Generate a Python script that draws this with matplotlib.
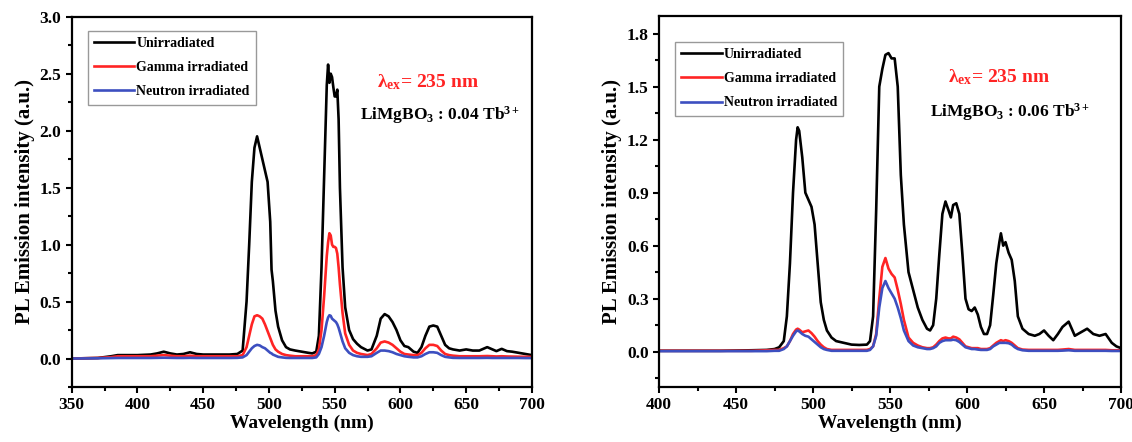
import matplotlib
matplotlib.use("Agg")
import matplotlib.pyplot as plt
from matplotlib.ticker import MultipleLocator, AutoMinorLocator

plt.rcParams['font.family'] = ['Liberation Serif', 'DejaVu Serif']
plt.rcParams['font.weight'] = 'bold'
plt.rcParams['mathtext.fontset'] = 'custom'
plt.rcParams['mathtext.rm'] = 'Liberation Serif:bold'
plt.rcParams['mathtext.bf'] = 'Liberation Serif:bold'
plt.rcParams['mathtext.it'] = 'Liberation Serif:bold:italic'

# ---------------- data: left panel (LiMgBO3 : 0.04 Tb3+) ----------------
wl_left = [350, 370, 380, 385, 400, 410, 415, 420, 425, 430, 435, 440, 445, 450, 470,
           476, 480, 483, 485, 487, 489, 491, 493, 495, 497, 499, 501, 502, 503, 505,
           507, 510, 513, 516, 520, 525, 530, 533, 536, 538, 540, 542, 544, 545, 546,
           547, 548, 549, 550, 551, 552, 553, 554, 556, 558, 561, 564, 567, 570, 575,
           578, 582, 585, 588, 591, 594, 597, 600, 603, 606, 610, 613, 616, 619, 622,
           625, 628, 631, 634, 637, 640, 645, 650, 655, 660, 666, 670, 673, 677, 681,
           685, 690, 695, 700]
unirr_left = [0.0, 0.005, 0.02, 0.03, 0.03, 0.035, 0.045, 0.06, 0.045, 0.035, 0.04, 0.055, 0.04, 0.035, 0.035,
              0.04, 0.07, 0.5, 1.0, 1.55, 1.85, 1.95, 1.85, 1.75, 1.65, 1.55, 1.2, 0.78, 0.68, 0.42,
              0.28, 0.16, 0.1, 0.08, 0.07, 0.06, 0.05, 0.045, 0.06, 0.2, 0.8, 1.6, 2.4, 2.58, 2.42,
              2.5, 2.47, 2.38, 2.3, 2.3, 2.36, 2.1, 1.5, 0.8, 0.45, 0.25, 0.17, 0.13, 0.1, 0.07,
              0.08, 0.2, 0.35, 0.39, 0.37, 0.32, 0.25, 0.16, 0.11, 0.1, 0.06, 0.05, 0.1, 0.2, 0.28,
              0.29, 0.28, 0.2, 0.12, 0.09, 0.08, 0.07, 0.08, 0.07, 0.07, 0.1, 0.08, 0.065, 0.085, 0.065,
              0.06, 0.05, 0.04, 0.03]
gamma_left = [0.0, 0.005, 0.012, 0.02, 0.02, 0.02, 0.025, 0.03, 0.025, 0.02, 0.02, 0.025, 0.02, 0.02, 0.02,
              0.02, 0.03, 0.1, 0.2, 0.3, 0.37, 0.38, 0.37, 0.35, 0.3, 0.24, 0.18, 0.15, 0.12, 0.08,
              0.06, 0.04, 0.03, 0.025, 0.02, 0.02, 0.02, 0.02, 0.03, 0.08, 0.25, 0.55, 0.9, 1.02, 1.1,
              1.08, 1.0, 0.98, 0.98, 0.97, 0.92, 0.8, 0.65, 0.4, 0.22, 0.12, 0.07, 0.05, 0.04, 0.03,
              0.04, 0.09, 0.14, 0.15, 0.14, 0.12, 0.09, 0.06, 0.04, 0.035, 0.03, 0.03, 0.05, 0.09, 0.12,
              0.12, 0.11, 0.07, 0.04, 0.03, 0.025, 0.02, 0.02, 0.02, 0.02, 0.022, 0.02, 0.018, 0.02, 0.018,
              0.017, 0.016, 0.015, 0.015]
neutron_left = [0.0, 0.002, 0.004, 0.005, 0.005, 0.005, 0.006, 0.007, 0.006, 0.005, 0.005, 0.006, 0.005, 0.005, 0.005,
                0.006, 0.01, 0.03, 0.06, 0.09, 0.11, 0.12, 0.115, 0.1, 0.09, 0.07, 0.05, 0.045, 0.035, 0.025,
                0.015, 0.01, 0.006, 0.005, 0.005, 0.005, 0.005, 0.005, 0.01, 0.04, 0.1, 0.2, 0.32, 0.36, 0.38,
                0.375, 0.35, 0.34, 0.33, 0.32, 0.3, 0.27, 0.23, 0.15, 0.09, 0.05, 0.03, 0.02, 0.015, 0.015,
                0.02, 0.05, 0.07, 0.07, 0.065, 0.055, 0.04, 0.03, 0.02, 0.015, 0.01, 0.01, 0.02, 0.04, 0.055,
                0.055, 0.05, 0.03, 0.015, 0.01, 0.006, 0.005, 0.005, 0.005, 0.005, 0.006, 0.005, 0.005, 0.005, 0.005,
                0.005, 0.005, 0.004, 0.004]

# ---------------- data: right panel (LiMgBO3 : 0.06 Tb3+) ----------------
wl_right = [400, 420, 440, 460, 470, 475, 478, 481, 483, 485, 487, 489, 490, 491, 493,
            495, 497, 499, 501, 503, 505, 507, 509, 512, 515, 520, 525, 530, 535, 537,
            539, 541, 543, 545, 547, 549, 551, 553, 555, 557, 559, 562, 565, 568, 571,
            574, 576, 578, 580, 582, 584, 586, 588, 589.5, 591, 593, 595, 597, 599, 601,
            603, 605, 607, 609, 611, 613, 615, 617, 619, 621, 622, 623.5, 625, 627, 629,
            631, 633, 636, 640, 644, 647, 650, 653, 656, 659, 662, 666, 670, 674, 678,
            682, 686, 690, 694, 697, 700]
unirr_right = [0.005, 0.005, 0.005, 0.008, 0.01, 0.015, 0.025, 0.06, 0.2, 0.5, 0.9, 1.2, 1.27, 1.25, 1.1,
               0.9, 0.86, 0.82, 0.72, 0.5, 0.28, 0.18, 0.12, 0.08, 0.06, 0.05, 0.04, 0.038, 0.04, 0.06,
               0.2, 0.8, 1.5, 1.6, 1.68, 1.69, 1.66, 1.66, 1.5, 1.0, 0.72, 0.45, 0.35, 0.25, 0.18,
               0.13, 0.12, 0.15, 0.3, 0.55, 0.78, 0.85, 0.8, 0.76, 0.83, 0.84, 0.78, 0.55, 0.3, 0.24,
               0.23, 0.25, 0.21, 0.14, 0.1, 0.1, 0.15, 0.32, 0.5, 0.62, 0.67, 0.6, 0.62, 0.56, 0.52,
               0.4, 0.2, 0.13, 0.1, 0.09, 0.1, 0.12, 0.09, 0.065, 0.1, 0.14, 0.17, 0.09, 0.11, 0.13,
               0.1, 0.09, 0.1, 0.05, 0.03, 0.02]
gamma_right = [0.005, 0.005, 0.005, 0.005, 0.008, 0.01, 0.01, 0.02, 0.03, 0.06, 0.1, 0.125, 0.13, 0.125, 0.11,
               0.115, 0.12, 0.105, 0.085, 0.06, 0.04, 0.025, 0.015, 0.01, 0.01, 0.01, 0.01, 0.01, 0.01, 0.015,
               0.03, 0.1, 0.3, 0.48, 0.53, 0.47, 0.44, 0.42, 0.35, 0.27, 0.18, 0.08, 0.05, 0.035, 0.025,
               0.02, 0.02, 0.025, 0.04, 0.06, 0.075, 0.08, 0.075, 0.075, 0.085, 0.08, 0.07, 0.05, 0.03, 0.025,
               0.02, 0.02, 0.02, 0.015, 0.015, 0.015, 0.02, 0.035, 0.05, 0.06, 0.065, 0.06, 0.065, 0.06, 0.05,
               0.035, 0.02, 0.012, 0.01, 0.01, 0.01, 0.01, 0.01, 0.01, 0.01, 0.012, 0.015, 0.01, 0.01, 0.01,
               0.01, 0.01, 0.01, 0.008, 0.008, 0.008]
neutron_right = [0.003, 0.003, 0.003, 0.003, 0.003, 0.005, 0.005, 0.015, 0.03, 0.06, 0.09, 0.115, 0.12, 0.115, 0.1,
                 0.09, 0.085, 0.07, 0.055, 0.04, 0.025, 0.015, 0.01, 0.005, 0.005, 0.005, 0.005, 0.005, 0.005, 0.01,
                 0.03, 0.09, 0.25, 0.36, 0.40, 0.36, 0.33, 0.3, 0.25, 0.19, 0.12, 0.06, 0.035, 0.025, 0.02,
                 0.015, 0.015, 0.02, 0.03, 0.05, 0.06, 0.065, 0.065, 0.065, 0.068, 0.065, 0.055, 0.04, 0.025, 0.02,
                 0.015, 0.015, 0.012, 0.01, 0.01, 0.01, 0.015, 0.03, 0.04, 0.05, 0.05, 0.05, 0.05, 0.048, 0.04,
                 0.025, 0.015, 0.008, 0.005, 0.005, 0.005, 0.005, 0.005, 0.005, 0.005, 0.006, 0.008, 0.005, 0.005, 0.005,
                 0.005, 0.005, 0.005, 0.004, 0.004, 0.004]

series_labels = ["Unirradiated", "Gamma irradiated", "Neutron irradiated"]
series_colors = ["#000000", "#ff2424", "#3d4fc0"]
sample_labels = [r"LiMgBO$_\mathbf{3}$ : 0.04 Tb$^\mathbf{3+}$",
                 r"LiMgBO$_\mathbf{3}$ : 0.06 Tb$^\mathbf{3+}$"]
excitation_label = r"λ$_\mathbf{ex}$= 235 nm"

fig = plt.figure(figsize=(11.32, 4.42), dpi=100)
ax1 = fig.add_axes([0.0633, 0.1244, 0.4066, 0.8378])
ax2 = fig.add_axes([0.5822, 0.1244, 0.4081, 0.8394])

panels = [
    (ax1, wl_left, [unirr_left, gamma_left, neutron_left], (350, 700), (-0.25, 3.0), 0.5,
     sample_labels[0], (0.663, 0.824), (0.626, 0.735), 0.962),
    (ax2, wl_right, [unirr_right, gamma_right, neutron_right], (400, 700), (-0.2, 1.9), 0.3,
     sample_labels[1], (0.626, 0.836), (0.587, 0.741), 0.93),
]

for ax, wl, ys, xl, yl, ystep, slabel, lam_pos, s_pos, leg_top in panels:
    for y, lab, col in zip(ys, series_labels, series_colors):
        ax.plot(wl, y, color=col, lw=1.9, label=lab)
    ax.set_xlim(*xl)
    ax.set_ylim(*yl)
    ax.xaxis.set_major_locator(MultipleLocator(50))
    ax.xaxis.set_minor_locator(AutoMinorLocator(2))
    ax.yaxis.set_major_locator(MultipleLocator(ystep))
    ax.yaxis.set_minor_locator(AutoMinorLocator(2))
    ax.yaxis.set_major_formatter(matplotlib.ticker.FormatStrFormatter('%.1f'))
    for sp in ax.spines.values():
        sp.set_linewidth(1.6)
    ax.tick_params(which='major', direction='out', length=4.5, width=1.5, labelsize=12.5, pad=3)
    ax.tick_params(which='minor', direction='out', length=3, width=1.5)
    for t in ax.get_xticklabels() + ax.get_yticklabels():
        t.set_fontweight('bold')
    ax.set_xlabel("Wavelength (nm)", fontsize=14, fontweight='bold', labelpad=1)
    ax.set_ylabel("PL Emission intensity (a.u.)", fontsize=15, fontweight='bold', labelpad=3)
    leg = ax.legend(loc='upper left', bbox_to_anchor=(0.035, leg_top), borderaxespad=0,
                    fancybox=False, frameon=True, handlelength=2.9,
                    handletextpad=0.15, labelspacing=0.8, borderpad=0.45,
                    prop={'weight': 'bold', 'size': 10})
    leg.get_frame().set_edgecolor('#808080')
    leg.get_frame().set_linewidth(1.0)
    ax.text(lam_pos[0], lam_pos[1], excitation_label, transform=ax.transAxes, color='#ff2424',
            fontsize=14, fontweight='bold', ha='left', va='center')
    ax.text(s_pos[0], s_pos[1], slabel, transform=ax.transAxes, color='black',
            fontsize=12.5, fontweight='bold', ha='left', va='center')

fig.savefig("out.png", dpi=100)
